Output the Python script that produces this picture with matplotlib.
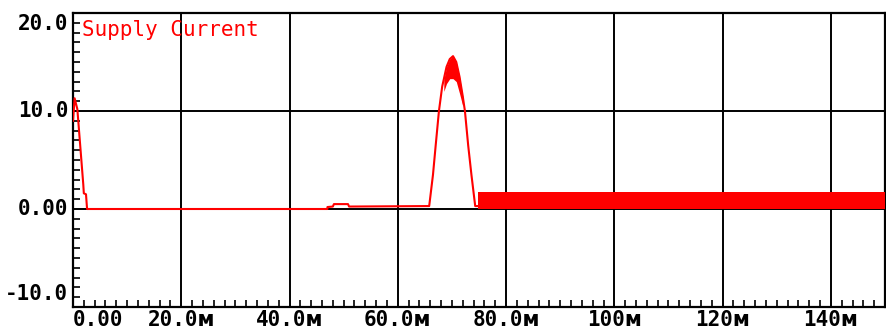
import matplotlib.pyplot as plt
import numpy as np
from matplotlib.ticker import MultipleLocator

# Supply current trace (time in ms, current in A)
t_trace = [0.0, 0.3, 0.8, 1.4, 1.9, 2.0, 2.4, 2.6, 47.0, 47.0, 48.0, 48.2, 50.8, 51.0,
           65.8, 66.5, 67.0, 67.6, 68.2, 69.0, 69.6, 70.2, 70.8, 71.4, 72.0, 72.4,
           73.0, 73.6, 74.3, 74.8]
i_trace = [9.0, 11.3, 10.2, 6.0, 2.5, 1.6, 1.5, 0.0, 0.0, 0.2, 0.25, 0.5, 0.5, 0.25,
           0.3, 3.5, 6.5, 10.0, 12.5, 14.5, 15.3, 15.6, 15.0, 13.5, 11.5, 10.0,
           6.5, 3.5, 0.3, 0.3]

# lower edge of the ripple near the peak
t_peak = [68.5, 69.0, 69.6, 70.2, 70.8, 71.4, 72.0]
i_peak_hi = [13.2, 14.5, 15.3, 15.6, 15.0, 13.5, 11.5]
i_peak_lo = [12.0, 12.8, 13.3, 13.3, 13.0, 11.8, 10.5]

# ripple band after 75 ms
t_band = [74.8, 150.0]
i_band_hi = [1.7, 1.7]
i_band_lo = [0.0, 0.0]

x_ticks = [0, 20, 40, 60, 80, 100, 120, 140]
x_labels = ["0.00", "20.0ᴍ", "40.0ᴍ", "60.0ᴍ", "80.0ᴍ", "100ᴍ", "120ᴍ", "140ᴍ"]
y_ticks = [-10, 0, 10, 20]
y_labels = ["-10.0", "0.00", "10.0", "20.0"]

font = ['DejaVu Sans Mono', 'DejaVu Sans']
red = '#ff0000'

fig = plt.figure(figsize=(8.87, 3.29), dpi=100)
ax = fig.add_axes([73 / 887, 1 - 307 / 329, 812 / 887, 294 / 329])

ax.set_xlim(0, 150)
ax.set_ylim(-10, 20)

# grid
for x in x_ticks[1:]:
    ax.axvline(x, color='black', lw=1.4, zorder=1)
for y in [0, 10]:
    ax.axhline(y, color='black', lw=1.4, zorder=1)

ax.plot(t_trace, i_trace, color=red, lw=1.5, zorder=3)
ax.fill_between(t_peak, i_peak_lo, i_peak_hi, color=red, lw=0, zorder=3)
ax.fill_between(t_band, i_band_lo, i_band_hi, color=red, lw=0, zorder=3)

for s in ax.spines.values():
    s.set_linewidth(1.6)
    s.set_color('black')

ax.set_xticks(x_ticks)
ax.set_xticklabels([])
ax.set_yticks(y_ticks)
ax.set_yticklabels([])
ax.xaxis.set_minor_locator(MultipleLocator(2))
ax.yaxis.set_minor_locator(MultipleLocator(1))
ax.tick_params(which='major', length=0)
ax.tick_params(which='minor', direction='in', length=5, width=1.2, color='black')

# tick labels as text
for x, lab in zip(x_ticks, x_labels):
    ax.text(x, -10.3, lab, ha='left' if x == 0 else 'center', va='top',
            fontsize=15, family=font, color='black', fontweight='bold')
for y, lab in zip(y_ticks, y_labels):
    va = 'center'
    if y == 20:
        va = 'top'
    elif y == -10:
        va = 'bottom'
    ax.text(-0.9, y + (-0.1 if y == 20 else 0.3 if y == -10 else 0), lab,
            ha='right', va=va, fontsize=15, family=font, color='black',
            fontweight='bold')

ax.text(1.6, 19.3, "Supply Current", color=red, fontsize=15, family=font,
        ha='left', va='top')

fig.savefig('out.png', dpi=100)
